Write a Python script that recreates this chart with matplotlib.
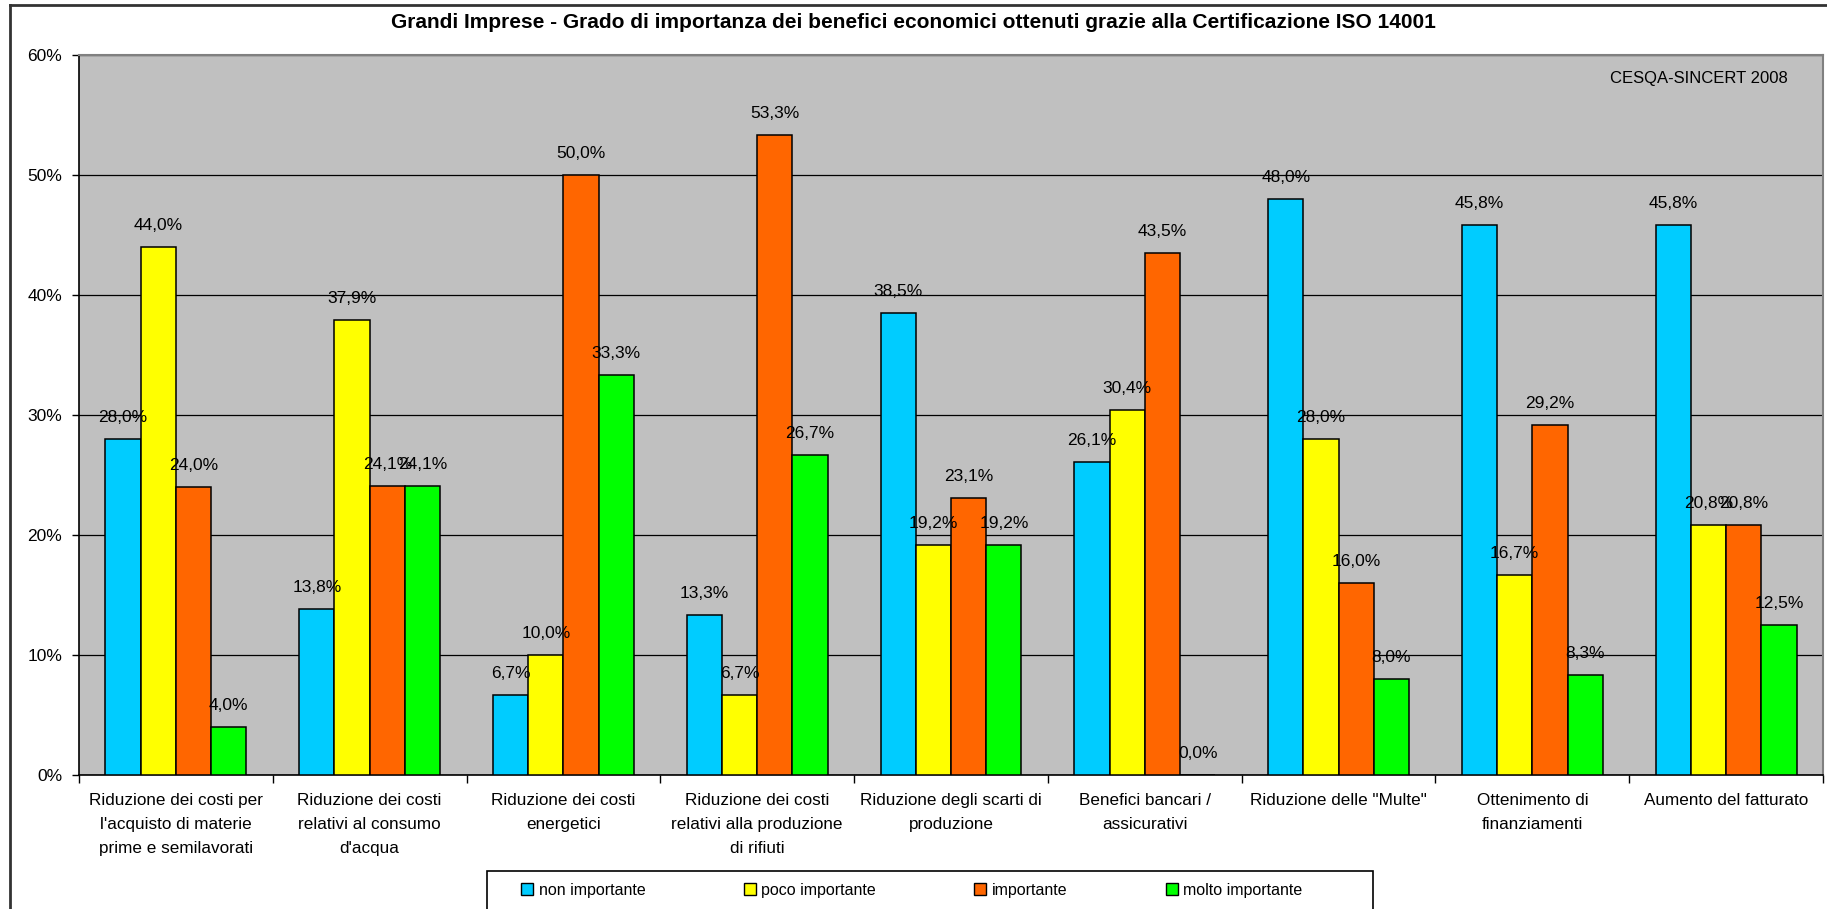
import numpy as np
import matplotlib
matplotlib.use("Agg")
import matplotlib.pyplot as plt
from matplotlib.patches import Rectangle, Patch
from matplotlib.lines import Line2D

plt.rcParams['font.family'] = ['Liberation Sans', 'DejaVu Sans']

# Dati (percentuali)
categorie = [
    "Riduzione dei costi per\nl'acquisto di materie\nprime e semilavorati",
    "Riduzione dei costi\nrelativi al consumo\nd'acqua",
    "Riduzione dei costi\nenergetici",
    "Riduzione dei costi\nrelativi alla produzione\ndi rifiuti",
    "Riduzione degli scarti di\nproduzione",
    "Benefici bancari /\nassicurativi",
    "Riduzione delle \"Multe\"",
    "Ottenimento di\nfinanziamenti",
    "Aumento del fatturato",
]
non_importante = [28.0, 13.8, 6.7, 13.3, 38.5, 26.1, 48.0, 45.8, 45.8]
poco_importante = [44.0, 37.9, 10.0, 6.7, 19.2, 30.4, 28.0, 16.7, 20.8]
importante = [24.0, 24.1, 50.0, 53.3, 23.1, 43.5, 16.0, 29.2, 20.8]
molto_importante = [4.0, 24.1, 33.3, 26.7, 19.2, 0.0, 8.0, 8.3, 12.5]

serie = [non_importante, poco_importante, importante, molto_importante]
nomi = ['non importante', 'poco importante', 'importante', 'molto importante']
colori = ['#00CCFF', '#FFFF00', '#FF6600', '#00FF00']
y_ticks = [0, 10, 20, 30, 40, 50, 60]

W, H = 1827, 909
fig = plt.figure(figsize=(W / 100, H / 100), dpi=100)
ax = fig.add_axes([79 / W, 1 - 775 / H, (1823 - 79) / W, (775 - 55) / H])

ax.set_facecolor('#C0C0C0')
x = np.arange(len(categorie))
bw = 1 / 5.5

for i, (vals, nome, col) in enumerate(zip(serie, nomi, colori)):
    pos = x + (i - 1.5) * bw
    ax.bar(pos, vals, width=bw, color=col, edgecolor='black',
           linewidth=1.1, label=nome, zorder=3)
    for xp, v in zip(pos, vals):
        ax.annotate(f"{v:.1f}%".replace('.', ','), (xp, v),
                    xytext=(0, 15.5), textcoords='offset points',
                    ha='center', va='center', fontsize=12.5, zorder=4)

ax.set_xlim(-0.5, len(categorie) - 0.5)
ax.set_ylim(0, 60)
ax.set_yticks(y_ticks)
ax.set_yticklabels([f"{t}%" for t in y_ticks], fontsize=12.5)
ax.yaxis.grid(True, color='black', linewidth=0.9, zorder=1)
ax.set_axisbelow(True)

# etichette categorie al centro, tacche tra le categorie
ax.set_xticks(x)
ax.set_xticklabels(categorie, fontsize=12.3, linespacing=1.75)
ax.set_xticks(np.arange(-0.5, len(categorie)), minor=True)
ax.tick_params(axis='x', which='major', length=0, pad=13)
ax.tick_params(axis='x', which='minor', length=6, width=1, color='black', direction='out')
ax.tick_params(axis='y', length=5, width=1, pad=7)

for s in ['top', 'right']:
    ax.spines[s].set_color('#808080')
    ax.spines[s].set_linewidth(1.5)
for s in ['left', 'bottom']:
    ax.spines[s].set_color('black')
    ax.spines[s].set_linewidth(1.2)

ax.text(0.98, 0.968, 'CESQA-SINCERT 2008', transform=ax.transAxes,
        ha='right', va='center', fontsize=12)

fig.text(0.5, 1 - 23 / H,
         'Grandi Imprese - Grado di importanza dei benefici economici ottenuti grazie alla Certificazione ISO 14001',
         ha='center', va='center', fontsize=15, fontweight='bold')

# legenda
handles = [Patch(facecolor=c, edgecolor='black', linewidth=1) for c in colori]
fig.legend(handles, nomi, loc='center', bbox_to_anchor=(912 / W, 1 - 890 / H),
           ncol=4, frameon=False, fontsize=11.5, handlelength=0.75,
           handleheight=0.75, handletextpad=0.35, columnspacing=6.15)
fig.patches.append(Rectangle((487 / W, -0.01), (1373 - 487) / W, (909 - 871) / H + 0.01,
                             transform=fig.transFigure, fill=False,
                             edgecolor='black', linewidth=1.2))

# bordo del grafico
fig.lines.append(Line2D([10 / W, 10 / W], [0, 1 - 5 / H], transform=fig.transFigure,
                        color='#333333', linewidth=2))
fig.lines.append(Line2D([10 / W, 1], [1 - 5 / H, 1 - 5 / H], transform=fig.transFigure,
                        color='#333333', linewidth=2))

fig.savefig('out.png', dpi=100)
